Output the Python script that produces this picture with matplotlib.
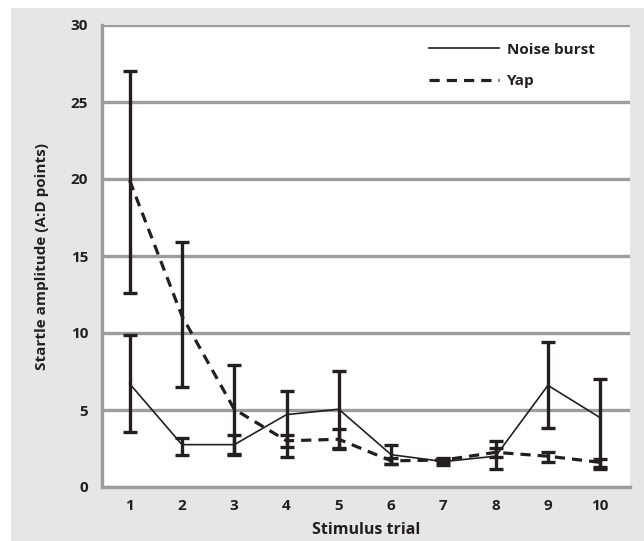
import matplotlib.pyplot as plt
import matplotlib.patches as patches
import numpy as np

# Data
trials = [1, 2, 3, 4, 5, 6, 7, 8, 9, 10]
noise_mean = [6.7, 2.75, 2.75, 4.7, 5.05, 2.1, 1.65, 2.0, 6.6, 4.5]
noise_err_up = [3.2, 0.4, 0.65, 1.55, 2.5, 0.65, 0.2, 1.0, 2.8, 2.5]
noise_err_low = [3.1, 0.65, 0.65, 2.75, 2.5, 0.6, 0.25, 0.8, 2.8, 3.3]
yap_mean = [19.9, 11.1, 5.05, 3.0, 3.1, 1.7, 1.75, 2.25, 2.0, 1.6]
yap_err_up = [7.1, 4.8, 2.9, 0.4, 0.65, 0.2, 0.15, 0.3, 0.3, 0.25]
yap_err_low = [7.3, 4.6, 2.9, 0.4, 0.65, 0.2, 0.15, 0.3, 0.4, 0.3]
y_ticks = [0, 5, 10, 15, 20, 25, 30]

DARK = "#231f20"
GRID = "#9d9d9d"
BG = "#e6e6e6"

plt.rcParams["font.family"] = ["Open Sans", "DejaVu Sans"]

fig = plt.figure(figsize=(6.44, 5.41), dpi=100)
fig.patch.set_facecolor("white")
fig.patches.append(
    patches.Rectangle((11 / 644, 0), 1 - 11 / 644, (541 - 8) / 541,
                      transform=fig.transFigure, facecolor=BG,
                      edgecolor="none", zorder=-10)
)

ax = fig.add_axes([102 / 644, 54 / 541, 528 / 644, 462 / 541])
ax.set_facecolor("white")

# Error bars
ax.errorbar(trials, noise_mean, yerr=[noise_err_low, noise_err_up], fmt="none",
            ecolor=DARK, elinewidth=2.4, capsize=5, capthick=2.4, zorder=3)
ax.errorbar(trials, yap_mean, yerr=[yap_err_low, yap_err_up], fmt="none",
            ecolor=DARK, elinewidth=2.4, capsize=5, capthick=2.4, zorder=3)

# Lines
ax.plot(trials, noise_mean, color=DARK, linewidth=1.2, label="Noise burst", zorder=4)
ax.plot(trials, yap_mean, color=DARK, linewidth=2.3, linestyle=(0, (3.2, 2.2)),
        label="Yap", zorder=4)

ax.set_xlim(0.47, 10.57)
ax.set_ylim(0, 30)
ax.set_xticks(trials)
ax.set_yticks(y_ticks)
ax.tick_params(length=0, labelsize=11, colors=DARK)
ax.tick_params(axis="y", pad=10)
ax.tick_params(axis="x", pad=9)
for lbl in ax.get_xticklabels() + ax.get_yticklabels():
    lbl.set_fontweight("bold")

ax.yaxis.grid(True, color=GRID, linewidth=2.4)
ax.set_axisbelow(True)
for side in ["top", "right"]:
    ax.spines[side].set_visible(False)
for side in ["left", "bottom"]:
    ax.spines[side].set_color(GRID)
    ax.spines[side].set_linewidth(2.4)

fig.text(42 / 644, 1 - 256 / 541, "Startle amplitude (A:D points)", rotation=90,
         ha="center", va="center", fontsize=11, fontweight="bold", color=DARK)
fig.text(366 / 644, 1 - 530 / 541, "Stimulus trial", ha="center", va="center",
         fontsize=11.5, fontweight="bold", color=DARK)

leg = ax.legend(loc="upper right", bbox_to_anchor=(0.948, 0.978), frameon=False,
                handlelength=4.6, handletextpad=0.5, labelspacing=1.15,
                borderpad=0, prop={"size": 11, "weight": "bold"})
for t in leg.get_texts():
    t.set_color(DARK)

fig.savefig("out.png", dpi=100)
